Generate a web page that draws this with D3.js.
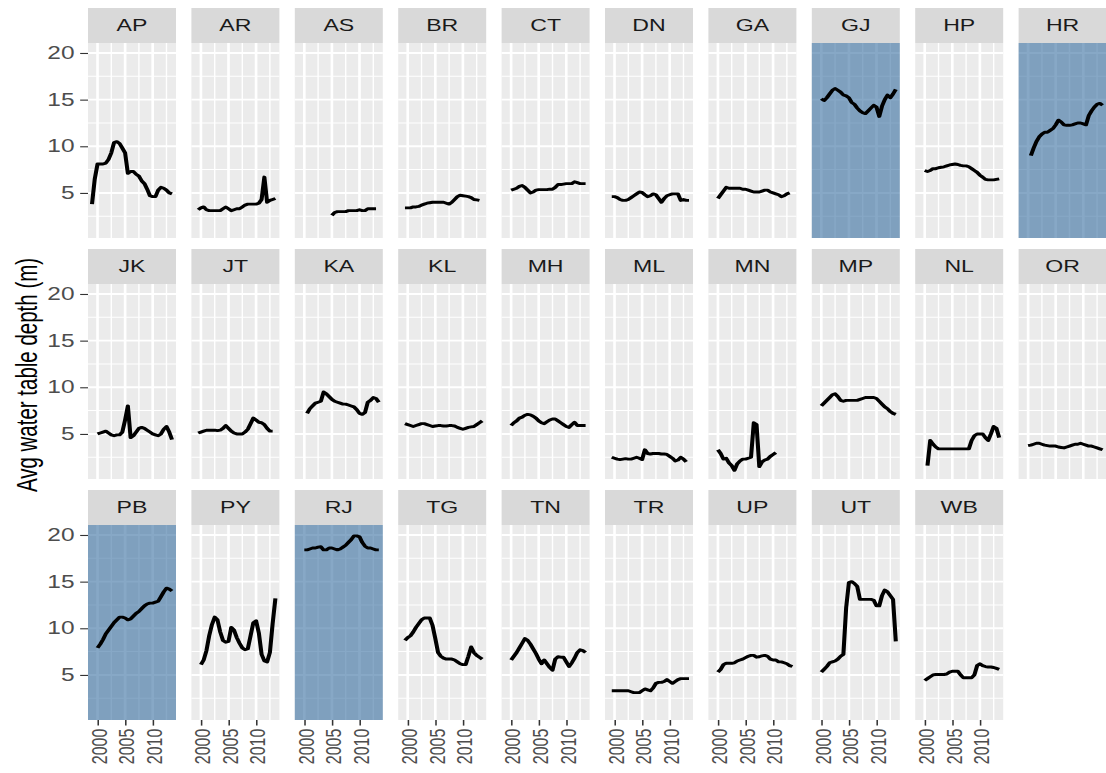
<!DOCTYPE html>
<html>
<head>
<meta charset="utf-8">
<script src="https://cdn.jsdelivr.net/npm/d3@7"></script>
<style>
body { margin: 0; background: #fff; }
svg { display: block; }
text { font-family: "Liberation Sans", Arial, sans-serif; }
</style>
</head>
<body>
<script>
// half-year steps, 1999 - 2013.5
var years = [1999, 1999.5, 2000, 2000.5, 2001, 2001.5, 2002, 2002.5, 2003, 2003.5,
    2004, 2004.5, 2005, 2005.5, 2006, 2006.5, 2007, 2007.5, 2008, 2008.5,
    2009, 2009.5, 2010, 2010.5, 2011, 2011.5, 2012, 2012.5, 2013, 2013.5];

var states = ['AP', 'AR', 'AS', 'BR', 'CT', 'DN', 'GA', 'GJ', 'HP', 'HR',
    'JK', 'JT', 'KA', 'KL', 'MH', 'ML', 'MN', 'MP', 'NL', 'OR',
    'PB', 'PY', 'RJ', 'TG', 'TN', 'TR', 'UP', 'UT', 'WB'];
var highlighted = ['GJ', 'HR', 'PB', 'RJ'];

var yTicks = [5, 10, 15, 20];
var yMinor = [2.5, 7.5, 12.5, 17.5];
var xTicks = [2000, 2005, 2010];
var xMinor = [2002.5, 2007.5, 2012.5];

var AP = [3.8, 6.5, 8.1, 8.1, 8.1, 8.2, 8.6, 9.3, 10.4, 10.5, 10.3, 9.8, 9.3, 7.1, 7.3, 7.3, 7.0, 6.8, 6.3, 6.0, 5.4, 4.7, 4.6, 4.6, 5.3, 5.6, 5.5, 5.3, 5.0, 4.9];
var AR = [null, 3.2, 3.4, 3.5, 3.2, 3.1, 3.1, 3.1, 3.1, 3.1, 3.3, 3.5, 3.3, 3.1, 3.2, 3.3, 3.3, 3.5, 3.7, 3.8, 3.8, 3.8, 3.8, 3.9, 4.3, 6.7, 4.0, 4.2, 4.3, 4.4];
var AS = [null, null, null, null, null, null, null, null, null, null, null, null, 2.6, 2.9, 3.0, 3.0, 3.0, 3.0, 3.1, 3.1, 3.1, 3.1, 3.2, 3.1, 3.1, 3.3, 3.3, 3.3, 3.3, null];
var BR = [null, 3.4, 3.4, 3.4, 3.5, 3.5, 3.55, 3.7, 3.8, 3.9, 3.95, 4.0, 4.0, 4.0, 4.0, 4.0, 3.9, 3.8, 4.0, 4.3, 4.6, 4.75, 4.7, 4.65, 4.6, 4.5, 4.3, 4.25, 4.2, null];
var CT = [null, null, 5.3, 5.4, 5.5, 5.7, 5.8, 5.6, 5.3, 5.0, 5.1, 5.3, 5.35, 5.35, 5.35, 5.35, 5.4, 5.4, 5.6, 5.9, 5.9, 5.95, 6.0, 6.0, 6.0, 6.2, 6.1, 6.0, 6.0, 6.0];
var DN = [null, 4.6, 4.6, 4.5, 4.3, 4.2, 4.2, 4.3, 4.5, 4.7, 4.9, 5.1, 5.05, 4.8, 4.6, 4.7, 4.9, 4.8, 4.4, 4.0, 4.4, 4.7, 4.8, 4.9, 4.9, 4.9, 4.2, 4.3, 4.2, 4.2];
var GA = [null, null, 4.4, 4.8, 5.2, 5.6, 5.5, 5.5, 5.5, 5.5, 5.5, 5.4, 5.4, 5.3, 5.2, 5.1, 5.1, 5.1, 5.2, 5.3, 5.3, 5.1, 5.0, 4.9, 4.8, 4.6, 4.7, 4.9, 5.0, null];
var GJ = [null, null, 15.1, 14.9, 15.2, 15.6, 16.0, 16.2, 16.0, 15.8, 15.5, 15.4, 15.2, 14.7, 14.5, 14.1, 13.8, 13.6, 13.5, 13.8, 14.1, 14.4, 14.2, 13.2, 14.3, 15.0, 15.5, 15.2, 15.6, 16.1];
var HP = [null, null, 7.4, 7.3, 7.4, 7.6, 7.6, 7.7, 7.75, 7.8, 7.9, 8.0, 8.05, 8.1, 8.05, 7.95, 7.9, 7.9, 7.8, 7.6, 7.4, 7.2, 6.9, 6.7, 6.45, 6.4, 6.4, 6.4, 6.45, 6.5];
var HR = [null, null, null, 9.0, 9.8, 10.5, 11.0, 11.3, 11.5, 11.5, 11.7, 11.9, 12.3, 12.8, 12.6, 12.3, 12.25, 12.25, 12.3, 12.4, 12.5, 12.5, 12.4, 12.3, 13.3, 13.8, 14.2, 14.5, 14.6, 14.4];
var JK = [null, null, 5.0, 5.1, 5.2, 5.3, 5.1, 4.9, 4.8, 4.9, 4.9, 5.2, 6.5, 8.0, 4.6, 4.8, 5.2, 5.6, 5.7, 5.6, 5.4, 5.2, 5.0, 4.9, 4.8, 5.0, 5.5, 5.8, 5.2, 4.4];
var JT = [null, 5.1, 5.2, 5.3, 5.4, 5.4, 5.4, 5.4, 5.35, 5.4, 5.6, 5.9, 5.6, 5.3, 5.1, 5.0, 5.0, 5.0, 5.2, 5.5, 6.1, 6.7, 6.5, 6.25, 6.2, 6.0, 5.6, 5.3, 5.3, null];
var KA = [null, null, null, 7.2, 7.7, 8.0, 8.3, 8.4, 8.5, 9.5, 9.3, 9.0, 8.7, 8.5, 8.4, 8.3, 8.2, 8.2, 8.1, 8.0, 7.9, 7.6, 7.2, 7.1, 7.3, 8.4, 8.6, 8.9, 8.8, 8.4];
var KL = [null, 6.1, 6.0, 5.9, 5.8, 5.9, 6.0, 6.1, 6.1, 6.0, 5.9, 5.8, 5.85, 5.9, 5.9, 5.85, 5.85, 5.9, 5.9, 5.85, 5.7, 5.6, 5.5, 5.6, 5.7, 5.75, 5.8, 6.0, 6.2, 6.4];
var MH = [null, null, 5.9, 6.2, 6.4, 6.7, 6.8, 7.0, 7.1, 7.05, 6.9, 6.7, 6.4, 6.2, 6.1, 6.3, 6.5, 6.6, 6.6, 6.4, 6.2, 6.0, 5.8, 5.7, 6.0, 6.25, 5.9, 5.9, 5.9, 5.9];
var ML = [null, 2.5, 2.4, 2.3, 2.25, 2.3, 2.35, 2.3, 2.3, 2.4, 2.5, 2.4, 2.25, 3.3, 2.9, 2.85, 2.9, 2.9, 2.9, 2.85, 2.85, 2.8, 2.6, 2.4, 2.1, 2.2, 2.5, 2.3, 2.0, null];
var MN = [null, null, 3.3, 2.9, 2.3, 2.4, 1.9, 1.6, 1.1, 1.8, 2.1, 2.3, 2.3, 2.4, 2.5, 6.2, 6.0, 1.5, 2.0, 2.2, 2.3, 2.6, 2.8, 3.0, null, null, null, null, null, null];
var MP = [null, null, 8.0, 8.3, 8.6, 8.9, 9.2, 9.3, 9.0, 8.6, 8.5, 8.6, 8.6, 8.6, 8.6, 8.6, 8.7, 8.8, 8.9, 8.9, 8.9, 8.9, 8.8, 8.5, 8.2, 7.9, 7.7, 7.4, 7.2, 7.1];
var NL = [null, null, null, 1.6, 4.3, 3.9, 3.6, 3.4, 3.4, 3.4, 3.4, 3.4, 3.4, 3.4, 3.4, 3.4, 3.4, 3.4, 3.4, 4.3, 4.8, 5.0, 5.0, 5.0, 4.6, 4.3, 5.0, 5.8, 5.6, 4.6];
var OR = [null, null, 3.75, 3.8, 3.9, 4.0, 4.0, 3.9, 3.8, 3.75, 3.7, 3.7, 3.7, 3.6, 3.55, 3.5, 3.6, 3.7, 3.8, 3.9, 3.9, 4.0, 3.9, 3.8, 3.7, 3.7, 3.6, 3.5, 3.4, 3.3];
var PB = [null, null, 7.9, 8.3, 8.8, 9.4, 9.8, 10.2, 10.6, 10.9, 11.2, 11.2, 11.1, 10.9, 11.0, 11.3, 11.6, 11.8, 12.1, 12.4, 12.6, 12.7, 12.7, 12.8, 12.9, 13.4, 13.9, 14.3, 14.2, 14.0];
var PY = [null, null, 6.1, 6.6, 7.6, 9.2, 10.4, 11.2, 10.9, 9.6, 8.7, 8.5, 8.6, 10.1, 9.8, 9.0, 8.4, 7.9, 7.7, 7.8, 9.2, 10.6, 10.8, 9.5, 7.2, 6.5, 6.4, 7.4, 10.5, 13.2];
var RJ = [null, null, 18.4, 18.4, 18.5, 18.6, 18.6, 18.7, 18.75, 18.4, 18.4, 18.6, 18.6, 18.5, 18.4, 18.5, 18.7, 18.9, 19.2, 19.5, 19.9, 19.9, 19.8, 19.2, 18.8, 18.6, 18.6, 18.5, 18.4, 18.4];
var TG = [null, 8.7, 9.0, 9.2, 9.6, 10.1, 10.5, 10.9, 11.1, 11.1, 11.1, 10.3, 8.9, 7.4, 7.0, 6.8, 6.7, 6.7, 6.7, 6.6, 6.4, 6.2, 6.1, 6.1, 7.0, 8.0, 7.4, 7.1, 6.9, 6.7];
var TN = [null, null, 6.6, 7.0, 7.4, 7.9, 8.4, 8.9, 8.7, 8.3, 7.8, 7.3, 6.7, 6.2, 6.6, 6.2, 5.8, 5.5, 6.7, 6.95, 6.9, 6.9, 6.4, 5.9, 6.3, 6.8, 7.4, 7.7, 7.6, 7.4];
var TR = [null, 3.3, 3.3, 3.3, 3.3, 3.3, 3.3, 3.3, 3.2, 3.1, 3.1, 3.1, 3.3, 3.5, 3.4, 3.3, 3.6, 4.1, 4.2, 4.2, 4.3, 4.5, 4.3, 4.1, 4.3, 4.5, 4.6, 4.6, 4.6, 4.6];
var UP = [null, null, 5.3, 5.6, 6.1, 6.25, 6.25, 6.25, 6.3, 6.5, 6.6, 6.7, 6.85, 7.0, 7.1, 7.1, 6.9, 6.95, 7.05, 7.1, 7.0, 6.7, 6.6, 6.6, 6.4, 6.4, 6.3, 6.2, 6.0, 5.9];
var UT = [null, null, 5.3, 5.6, 5.9, 6.3, 6.4, 6.5, 6.7, 7.0, 7.2, 12.2, 14.9, 15.0, 14.8, 14.5, 13.1, 13.1, 13.1, 13.1, 13.1, 13.0, 12.4, 12.4, 13.5, 14.1, 13.9, 13.5, 13.1, 8.6];
var WB = [null, null, 4.4, 4.6, 4.8, 5.0, 5.05, 5.05, 5.05, 5.05, 5.1, 5.3, 5.4, 5.4, 5.4, 5.0, 4.7, 4.7, 4.7, 4.7, 5.0, 6.0, 6.2, 6.0, 5.9, 5.85, 5.85, 5.8, 5.7, 5.6];

var series = {AP: AP, AR: AR, AS: AS, BR: BR, CT: CT, DN: DN, GA: GA, GJ: GJ, HP: HP, HR: HR,
    JK: JK, JT: JT, KA: KA, KL: KL, MH: MH, ML: ML, MN: MN, MP: MP, NL: NL, OR: OR,
    PB: PB, PY: PY, RJ: RJ, TG: TG, TN: TN, TR: TR, UP: UP, UT: UT, WB: WB};

var scr = { w: 1106, h: 773 };
var sx = 1.4; // the reference is stretched sideways, so draw narrow and stretch
var vw = scr.w / sx;
var nCols = 10;
var panel = {
    left: 88 / sx,
    w: 88 / sx,
    gap: 15.4 / sx,
    top: 8,
    stripH: 35,
    h: 195,
    rowStep: 241
};
var tickLen = 5.6;

var svg = d3.select('body').append('svg')
    .attr('width', scr.w)
    .attr('height', scr.h)
    .attr('viewBox', '0 0 ' + vw + ' ' + scr.h)
    .attr('preserveAspectRatio', 'none');

var x = d3.scaleLinear().domain([1998.275, 2014.225]).range([0, panel.w]);
var y = d3.scaleLinear().domain([0.17, 21.07]).range([panel.h, 0]);

var line = d3.line()
    .defined(function(d) { return d[1] != null; })
    .x(function(d) { return x(d[0]); })
    .y(function(d) { return y(d[1]); });

var nRows = Math.ceil(states.length / nCols);

states.forEach(function(st, i) {
    var col = i % nCols;
    var row = Math.floor(i / nCols);
    var px = panel.left + col * (panel.w + panel.gap);
    var py = panel.top + row * panel.rowStep + panel.stripH;
    var g = svg.append('g').attr('transform', 'translate(' + px + ',' + py + ')');

    // strip
    g.append('rect')
        .attr('x', 0).attr('y', -panel.stripH)
        .attr('width', panel.w).attr('height', panel.stripH)
        .attr('fill', '#d9d9d9');
    g.append('text')
        .attr('x', panel.w / 2).attr('y', -panel.stripH / 2)
        .attr('text-anchor', 'middle')
        .attr('dominant-baseline', 'central')
        .attr('font-size', 16.5)
        .attr('fill', '#1a1a1a')
        .text(st);

    // panel background + grid
    g.append('rect')
        .attr('width', panel.w).attr('height', panel.h)
        .attr('fill', '#ebebeb');
    g.selectAll('.ymin').data(yMinor).enter().append('line')
        .attr('x1', 0).attr('x2', panel.w)
        .attr('y1', function(d) { return y(d); }).attr('y2', function(d) { return y(d); })
        .attr('stroke', '#fff').attr('stroke-width', 1);
    g.selectAll('.xmin').data(xMinor).enter().append('line')
        .attr('y1', 0).attr('y2', panel.h)
        .attr('x1', function(d) { return x(d); }).attr('x2', function(d) { return x(d); })
        .attr('stroke', '#fff').attr('stroke-width', 1);
    g.selectAll('.ymaj').data(yTicks).enter().append('line')
        .attr('x1', 0).attr('x2', panel.w)
        .attr('y1', function(d) { return y(d); }).attr('y2', function(d) { return y(d); })
        .attr('stroke', '#fff').attr('stroke-width', 1.9);
    g.selectAll('.xmaj').data(xTicks).enter().append('line')
        .attr('y1', 0).attr('y2', panel.h)
        .attr('x1', function(d) { return x(d); }).attr('x2', function(d) { return x(d); })
        .attr('stroke', '#fff').attr('stroke-width', 1.9);

    if (highlighted.indexOf(st) >= 0) {
        g.append('rect')
            .attr('width', panel.w).attr('height', panel.h)
            .attr('fill', '#376ea0')
            .attr('opacity', 0.6);
    }

    var pts = years.map(function(yr, k) { return [yr, series[st][k]]; });
    g.append('path')
        .datum(pts)
        .attr('d', line)
        .attr('fill', 'none')
        .attr('stroke', '#000')
        .attr('stroke-width', 2.9)
        .attr('stroke-linejoin', 'round');

    // y axis on the first column
    if (col == 0) {
        var ya = g.append('g')
            .call(d3.axisLeft(y).tickValues(yTicks).tickSize(tickLen).tickPadding(4));
        ya.select('.domain').remove();
        ya.selectAll('line').attr('stroke', '#333').attr('stroke-width', 1.1);
        ya.selectAll('text')
            .attr('font-size', 17.5)
            .attr('font-family', '"Liberation Sans", Arial, sans-serif')
            .attr('fill', '#4d4d4d');
    }

    // x axis on the bottom row
    if (row == nRows - 1) {
        var xa = g.append('g')
            .attr('transform', 'translate(0,' + panel.h + ')')
            .call(d3.axisBottom(x).tickValues(xTicks).tickFormat(d3.format('d')).tickSize(tickLen));
        xa.select('.domain').remove();
        xa.selectAll('line').attr('stroke', '#333').attr('stroke-width', 1.1);
        xa.selectAll('text')
            .attr('transform', 'rotate(-90)')
            .attr('text-anchor', 'end')
            .attr('x', -(tickLen + 3))
            .attr('y', 0)
            .attr('dy', '0.38em')
            .attr('font-size', 16)
            .attr('font-family', '"Liberation Sans", Arial, sans-serif')
            .attr('fill', '#4d4d4d');
    }
});

svg.append('text')
    .attr('transform', 'translate(' + (27 / sx) + ',375) rotate(-90)')
    .attr('text-anchor', 'middle')
    .attr('dominant-baseline', 'central')
    .attr('font-size', 20.5)
    .attr('fill', '#000')
    .text('Avg water table depth (m)');
</script>
</body>
</html>
